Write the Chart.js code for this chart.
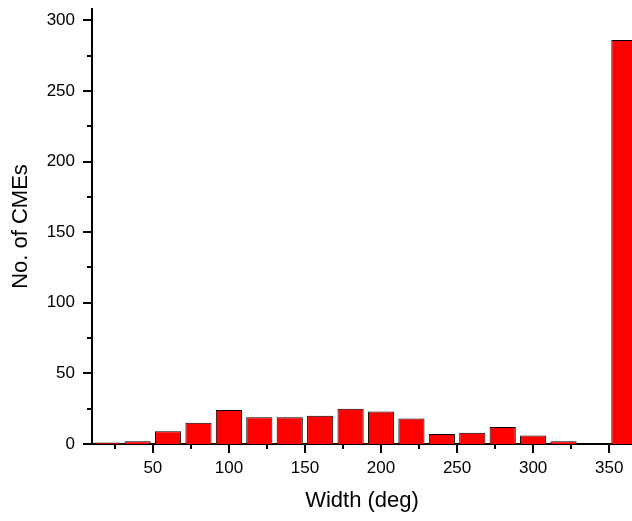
<!DOCTYPE html>
<html>
<head>
<meta charset="utf-8">
<script src="https://cdn.jsdelivr.net/npm/chart.js@4"></script>
<style>
  html, body { margin: 0; padding: 0; background: #fff; }
  #wrap { width: 632px; height: 521px; }
</style>
</head>
<body>
<div id="wrap"><canvas id="cme-width-chart"></canvas></div>
<script>
// Bin centres (deg) and counts
const widths = [20, 40, 60, 80, 100, 120, 140, 160, 180, 200, 220, 240, 260, 280, 300, 320, 340, 360];
const counts = [1, 2, 9, 15, 24, 19, 19, 20, 25, 23, 18, 7, 8, 12, 6, 2, 0, 286];

const xMajor = [50, 100, 150, 200, 250, 300, 350];
const yMajor = [0, 50, 100, 150, 200, 250, 300];

const fontFamily = 'Liberation Sans, Arial, sans-serif';

// outward ticks: long ones at majors, short ones halfway between
const tickMarks = {
    id: 'tickMarks',
    afterDraw(chart) {
        const c = chart.ctx;
        const xs = chart.scales.x, ys = chart.scales.y;
        const area = chart.chartArea;
        c.save();
        c.strokeStyle = '#000';
        c.lineWidth = 2;
        c.beginPath();
        for (let v = 25; v <= xs.max; v += 25) {
            if (v < xs.min) continue;
            const px = Math.round(xs.getPixelForValue(v));
            const len = (v % 50 === 0) ? 9 : 5;
            c.moveTo(px, area.bottom);
            c.lineTo(px, area.bottom + len);
        }
        for (let v = 0; v <= ys.max; v += 25) {
            const py = Math.round(ys.getPixelForValue(v));
            const len = (v % 50 === 0) ? 9 : 5;
            c.moveTo(area.left, py);
            c.lineTo(area.left - len, py);
        }
        c.stroke();
        c.restore();
    }
};

function noPad(scale) {
    scale.paddingTop = 0;
    scale.paddingBottom = 0;
    scale.paddingLeft = 0;
    scale.paddingRight = 0;
}

const ctx = document.getElementById('cme-width-chart').getContext('2d');

new Chart(ctx, {
    type: 'bar',
    data: {
        datasets: [{
            data: widths.map((w, i) => ({ x: w, y: counts[i] })),
            backgroundColor: '#ff0000',
            borderColor: '#000000',
            borderWidth: 1,
            barPercentage: 1,
            categoryPercentage: 0.86,
            clip: 0
        }]
    },
    options: {
        responsive: true,
        maintainAspectRatio: false,
        animation: false,
        layout: { padding: { top: 9, right: 0, bottom: 0, left: 0 } },
        plugins: {
            legend: { display: false },
            tooltip: { enabled: false }
        },
        scales: {
            x: {
                type: 'linear',
                min: 10,
                max: 365,
                offset: false,
                grid: { display: false, drawTicks: false },
                border: { display: true, color: '#000', width: 2 },
                afterBuildTicks(scale) {
                    scale.ticks = xMajor.map(v => ({ value: v }));
                },
                afterFit(scale) { scale.height = 77; noPad(scale); },
                ticks: {
                    padding: 14,
                    color: '#000',
                    maxRotation: 0,
                    font: { family: fontFamily, size: 17 }
                },
                title: {
                    display: true,
                    text: 'Width (deg)',
                    color: '#000',
                    padding: { top: 0, bottom: 7 },
                    font: { family: fontFamily, size: 22 }
                }
            },
            y: {
                min: 0,
                max: 308,
                grid: { display: false, drawTicks: false },
                border: { display: true, color: '#000', width: 2 },
                afterBuildTicks(scale) {
                    scale.ticks = yMajor.map(v => ({ value: v }));
                },
                afterFit(scale) { scale.width = 92; noPad(scale); },
                ticks: {
                    padding: 17,
                    color: '#000',
                    font: { family: fontFamily, size: 17 }
                },
                title: {
                    display: true,
                    text: 'No. of CMEs',
                    color: '#000',
                    padding: { top: 8, bottom: 0 },
                    font: { family: fontFamily, size: 22 }
                }
            }
        }
    },
    plugins: [tickMarks]
});
</script>
</body>
</html>
